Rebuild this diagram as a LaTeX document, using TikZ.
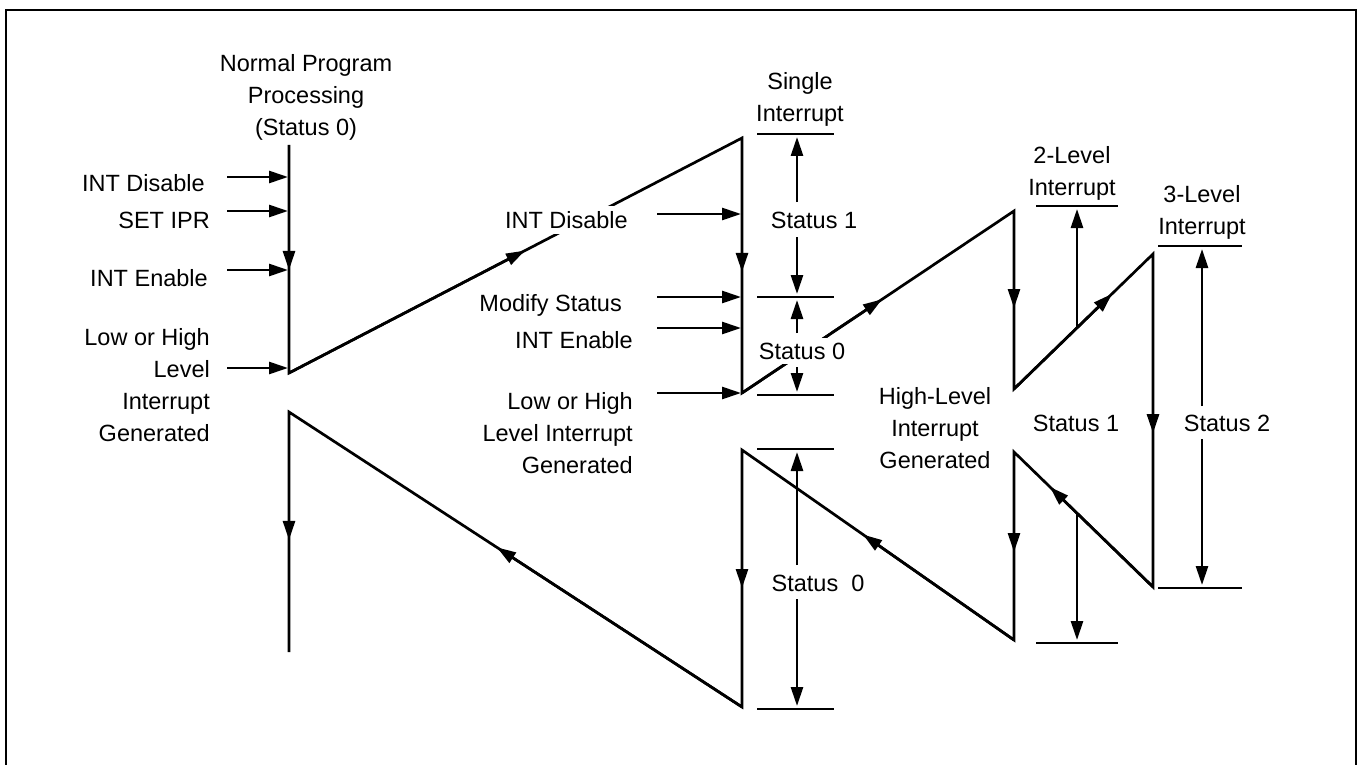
\documentclass[tikz,border=0pt]{standalone}
\usepackage{fontspec}
\setmainfont{Liberation Sans}
\usetikzlibrary{arrows.meta,calc}
\begin{document}
\begin{tikzpicture}[x=1pt,y=-1pt,
  ln/.style={line width=2.7pt},
  arr/.style={line width=2.7pt,-{Triangle[length=19pt,width=12pt]}},
  lbl/.style={font=\fontsize{23.5}{32}\selectfont, inner sep=2pt},
  wlbl/.style={lbl, fill=white, inner sep=5pt}]
\useasboundingbox (0,0) rectangle (1358,765);
% frame
\draw[line width=2.6pt] (6,770) -- (6,10) -- (1356,10) -- (1356,770);

% path vertices
\coordinate (A0) at (289,145);
\coordinate (A1) at (289,373);
\coordinate (B0) at (742,138);
\coordinate (B1) at (742,393);
\coordinate (C0) at (1014,211);
\coordinate (C1) at (1014,389);
\coordinate (D0) at (1153,254);
\coordinate (D1) at (1153,587);
\coordinate (E0) at (1014,452);
\coordinate (E1) at (1014,640);
\coordinate (F0) at (742,450);
\coordinate (F1) at (742,707);
\coordinate (G0) at (289,412);
\coordinate (G1) at (289,652);

% main path
\draw[ln, line join=miter] (A0) -- (A1) -- (B0) -- (B1) -- (C0) -- (C1) -- (D0) -- (D1) -- (E0) -- (E1) -- (F0) -- (F1) -- (G0) -- (G1);
% mid arrows
\draw[arr] (A0) -- ($(A0)!0.548!(A1)$);
\draw[arr] (A1) -- ($(A1)!0.521!(B0)$);
\draw[arr] (B0) -- ($(B0)!0.525!(B1)$);
\draw[arr] (B1) -- ($(B1)!0.515!(C0)$);
\draw[arr] (C0) -- ($(C0)!0.545!(C1)$);
\draw[arr] (C1) -- ($(C1)!0.705!(D0)$);
\draw[arr] (D0) -- ($(D0)!0.538!(D1)$);
\draw[arr] (D1) -- ($(D1)!0.741!(E0)$);
\draw[arr] (E0) -- ($(E0)!0.532!(E1)$);
\draw[arr] (E1) -- ($(E1)!0.555!(F0)$);
\draw[arr] (F0) -- ($(F0)!0.537!(F1)$);
\draw[arr] (F1) -- ($(F1)!0.541!(G0)$);
\draw[arr] (G0) -- ($(G0)!0.533!(G1)$);

% left inputs
\foreach \n/\y in {1/177,2/211,3/270,4/368} {
  \coordinate (li\n) at (227,\y);
  \coordinate (lo\n) at (288,\y);
  \draw[arr] (li\n) -- (lo\n);
}
% middle inputs
\foreach \n/\y in {1/214,2/297,3/328,4/393} {
  \coordinate (mi\n) at (657,\y);
  \coordinate (mo\n) at (741,\y);
  \draw[arr] (mi\n) -- (mo\n);
}

% status bars
\foreach \n/\y in {1/134,2/297,3/395,4/449,5/709} {
  \coordinate (sbl\n) at (757,\y);
  \coordinate (sbr\n) at (834,\y);
  \draw[ln] (sbl\n) -- (sbr\n);
}
\coordinate (tb2l) at (1036,206); \coordinate (tb2r) at (1118,206);
\coordinate (bb2l) at (1036,643); \coordinate (bb2r) at (1118,643);
\coordinate (tb3l) at (1158,246); \coordinate (tb3r) at (1242,246);
\coordinate (bb3l) at (1158,588); \coordinate (bb3r) at (1242,588);
\draw[ln] (tb2l) -- (tb2r);
\draw[ln] (bb2l) -- (bb2r);
\draw[ln] (tb3l) -- (tb3r);
\draw[ln] (bb3l) -- (bb3r);

% status arrows, single interrupt
\coordinate (s1u) at (797,202); \coordinate (s1ut) at (797,137);
\coordinate (s1d) at (797,237); \coordinate (s1dt) at (797,294);
\coordinate (s0u) at (797,333); \coordinate (s0ut) at (797,300);
\coordinate (s0d) at (797,367); \coordinate (s0dt) at (797,392);
\coordinate (s0bu) at (797,565); \coordinate (s0but) at (797,452);
\coordinate (s0bd) at (797,599); \coordinate (s0bdt) at (797,706);
\draw[arr] (s1u) -- (s1ut);
\draw[arr] (s1d) -- (s1dt);
\draw[arr] (s0u) -- (s0ut);
\draw[arr] (s0d) -- (s0dt);
\draw[arr] (s0bu) -- (s0but);
\draw[arr] (s0bd) -- (s0bdt);

% 2-level status arrows
\coordinate (t2s) at (1077,328); \coordinate (t2t) at (1077,209);
\coordinate (b2s) at (1077,513); \coordinate (b2t) at (1077,640);
\draw[arr] (t2s) -- (t2t);
\draw[arr] (b2s) -- (b2t);
% 3-level status arrows
\coordinate (t3s) at (1202,406); \coordinate (t3t) at (1202,249);
\coordinate (b3s) at (1202,439); \coordinate (b3t) at (1202,585);
\draw[arr] (t3s) -- (t3t);
\draw[arr] (b3s) -- (b3t);

% labels
\node[lbl, align=center] (normal) at (306,97) {Normal Program\\Processing\\(Status 0)};
\node[lbl, anchor=east] (intdis1) at (207,183) {INT Disable};
\node[lbl, anchor=east] (setipr) at (212,220) {SET IPR};
\node[lbl, anchor=east] (inten1) at (210,278) {INT Enable};
\node[lbl, anchor=east, align=right] (low1) at (212,385) {Low or High\\Level\\Interrupt\\Generated};

\node[wlbl, anchor=east] (intdis2) at (633,220) {INT Disable};
\node[lbl, anchor=east] (modify) at (624,305) {Modify Status};
\node[lbl, anchor=east] (inten2) at (635,340) {INT Enable};
\node[lbl, anchor=east, align=right] (low2) at (635,433) {Low or High\\Level Interrupt\hspace*{10pt}\\Generated};

\node[lbl, align=center] (single) at (800,99) {Single\\Interrupt};
\node[lbl] (st1a) at (814,220) {Status 1};
\node[wlbl] (st0a) at (802,351) {Status 0};
\node[lbl] (st0b) at (818,583) {Status~~0};

\node[lbl, align=center] (lev2) at (1072,173) {2-Level\\Interrupt};
\node[lbl, align=center] (lev3) at (1202,212) {3-Level\\Interrupt};
\node[lbl, align=center] (high) at (935,428) {High-Level\\Interrupt\\Generated};
\node[lbl] (st1b) at (1076,423) {Status 1};
\node[lbl] (st2) at (1227,423) {Status 2};
\end{tikzpicture}
\end{document}
